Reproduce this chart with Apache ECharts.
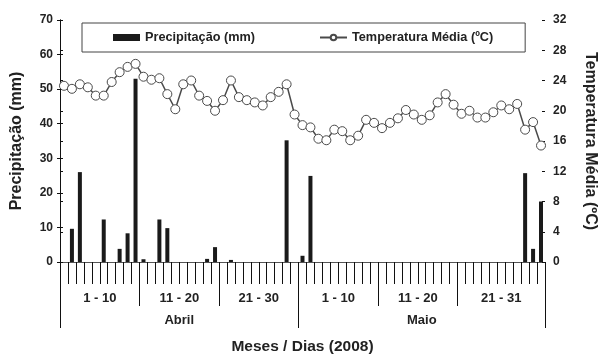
<!DOCTYPE html>
<html>
<head>
<meta charset="utf-8">
<script src="https://cdn.jsdelivr.net/npm/echarts@6/dist/echarts.min.js"></script>
<style>html,body{margin:0;padding:0;background:#fff}#c{width:598px;height:356px}</style>
</head>
<body>
<div id="c"></div>
<script>
// ---- data ----
const days = [
  '1/4','2/4','3/4','4/4','5/4','6/4','7/4','8/4','9/4','10/4',
  '11/4','12/4','13/4','14/4','15/4','16/4','17/4','18/4','19/4','20/4',
  '21/4','22/4','23/4','24/4','25/4','26/4','27/4','28/4','29/4','30/4',
  '1/5','2/5','3/5','4/5','5/5','6/5','7/5','8/5','9/5','10/5',
  '11/5','12/5','13/5','14/5','15/5','16/5','17/5','18/5','19/5','20/5',
  '21/5','22/5','23/5','24/5','25/5','26/5','27/5','28/5','29/5','30/5','31/5'
];
const precipitation = [
  0, 9.6, 26.0, 0, 0, 12.3, 0, 3.8, 8.3, 53.0,
  0.8, 0, 12.3, 9.8, 0, 0, 0, 0, 0.9, 4.3,
  0, 0.6, 0, 0, 0, 0, 0, 0, 35.2, 0,
  1.8, 24.9, 0, 0, 0, 0, 0, 0, 0, 0,
  0, 0, 0, 0, 0, 0, 0, 0, 0, 0,
  0, 0, 0, 0, 0, 0, 0, 0, 25.7, 3.8, 17.5
];
const temperature = [
  23.3, 22.9, 23.5, 23.1, 22.0, 22.0, 23.8, 25.1, 25.8, 26.2,
  24.5, 24.1, 24.3, 22.2, 20.2, 23.5, 24.0, 22.0, 21.3, 20.0,
  21.4, 24.0, 21.8, 21.4, 21.1, 20.7, 21.8, 22.5, 23.5, 19.5,
  18.1, 17.8, 16.3, 16.1, 17.5, 17.3, 16.1, 16.7, 18.8, 18.4,
  17.7, 18.4, 19.0, 20.1, 19.5, 18.8, 19.4, 21.1, 22.2, 20.8,
  19.6, 20.0, 19.1, 19.1, 19.8, 20.7, 20.2, 20.9, 17.5, 18.5, 15.4
];
const groupLabels = ['1 - 10', '11 - 20', '21 - 30', '1 - 10', '11 - 20', '21 - 31'];
const groupSizes = [10, 10, 10, 10, 10, 11];
const monthLabels = ['Abril', 'Maio'];
const monthSizes = [30, 31];
const precipTicks = [0, 10, 20, 30, 40, 50, 60, 70];
const tempTicks = [0, 4, 8, 12, 16, 20, 24, 28, 32];

// ---- derived boundaries / centres ----
function bounds(sizes) { const b = [0]; sizes.forEach(s => b.push(b[b.length - 1] + s)); return b; }
function centres(sizes) { const b = bounds(sizes); return sizes.map((s, i) => b[i] + s / 2); }
const groupBounds = bounds(groupSizes), groupCentres = centres(groupSizes);
const monthBounds = bounds(monthSizes), monthCentres = centres(monthSizes);
const total = days.length;

const FONT = "'Liberation Sans', Arial, sans-serif";
const TXT = '#222';
const chart = echarts.init(document.getElementById('c'), null, { renderer: 'canvas' });
const labelStyle = { fontFamily: FONT, fontWeight: 'bold', fontSize: 12, color: TXT };
const nameStyle = { fontFamily: FONT, fontWeight: 'bold', fontSize: 16, color: TXT };

chart.setOption({
  animation: false,
  backgroundColor: '#fff',
  grid: { left: 60, right: 53, top: 20, bottom: 94, containLabel: false, outerBoundsMode: 'none' },
  legend: {
    left: 82, top: 23,
    padding: [8, 32, 8, 31],
    itemGap: 64,
    itemWidth: 27, itemHeight: 7,
    borderColor: '#444', borderWidth: 1,
    textStyle: { fontFamily: FONT, fontWeight: 'bold', fontSize: 12.7, color: TXT },
    data: [
      { name: 'Precipitação (mm)', icon: 'rect' },
      { name: 'Temperatura Média (ºC)' }
    ]
  },
  xAxis: [
    {
      type: 'category', data: days, boundaryGap: true, position: 'bottom',
      axisLine: { show: true, onZero: false, lineStyle: { color: '#111', width: 1 } },
      axisTick: { show: true, interval: 0, length: 22, lineStyle: { color: '#111', width: 1 } },
      axisLabel: { show: false }, splitLine: { show: false }
    },
    {
      type: 'value', min: 0, max: total, position: 'bottom',
      axisLine: { show: false },
      axisTick: { show: true, customValues: groupBounds, length: 44, lineStyle: { color: '#111', width: 1 } },
      axisLabel: {
        show: true, customValues: groupCentres, margin: 30, ...labelStyle, fontSize: 13,
        formatter: v => groupLabels[groupCentres.indexOf(v)]
      },
      splitLine: { show: false }
    },
    {
      type: 'value', min: 0, max: total, position: 'bottom',
      axisLine: { show: false },
      axisTick: { show: true, customValues: monthBounds, length: 66, lineStyle: { color: '#111', width: 1 } },
      axisLabel: {
        show: true, customValues: monthCentres, margin: 52, ...labelStyle, fontSize: 13,
        formatter: v => monthLabels[monthCentres.indexOf(v)]
      },
      splitLine: { show: false },
      name: 'Meses / Dias (2008)', nameLocation: 'middle', nameGap: 77,
      nameTextStyle: { ...nameStyle, fontSize: 15.5 }
    },
    {
      type: 'category', data: days, position: 'top',
      axisLine: { show: true, lineStyle: { color: '#555', width: 1 } },
      axisTick: { show: false }, axisLabel: { show: false }, splitLine: { show: false }
    }
  ],
  yAxis: [
    {
      type: 'value', min: 0, max: 70, interval: 10, position: 'left',
      axisLine: { show: true, lineStyle: { color: '#111', width: 1 } },
      axisTick: { show: true, length: 3, lineStyle: { color: '#111' } },
      axisLabel: { ...labelStyle, margin: 7, formatter: v => precipTicks.includes(v) ? String(v) : '' },
      splitLine: { show: false },
      name: 'Precipitação (mm)', nameLocation: 'middle', nameGap: 35,
      nameTextStyle: nameStyle
    },
    {
      type: 'value', min: 0, max: 32, interval: 4, position: 'right',
      axisLine: { show: true, lineStyle: { color: '#111', width: 1 } },
      axisTick: { show: true, length: 3, lineStyle: { color: '#111' } },
      axisLabel: { ...labelStyle, margin: 8, formatter: v => tempTicks.includes(v) ? String(v) : '' },
      splitLine: { show: false },
      name: 'Temperatura Média (ºC)', nameLocation: 'middle', nameGap: 37, nameRotate: -90,
      nameTextStyle: nameStyle
    },
    {
      type: 'value', min: 0, max: 70, interval: 10, position: 'left',
      axisLine: { show: false },
      axisTick: { show: true, inside: true, length: 3, lineStyle: { color: '#111' } },
      axisLabel: { show: false }, splitLine: { show: false }
    },
    {
      type: 'value', min: 0, max: 32, interval: 4, position: 'right',
      axisLine: { show: false },
      axisTick: { show: true, inside: true, length: 3, lineStyle: { color: '#111' } },
      axisLabel: { show: false }, splitLine: { show: false }
    }
  ],
  series: [
    {
      name: 'Precipitação (mm)', type: 'bar', xAxisIndex: 0, yAxisIndex: 0,
      data: precipitation, barWidth: 4,
      itemStyle: { color: '#1a1a1a' }
    },
    {
      name: 'Temperatura Média (ºC)', type: 'line', xAxisIndex: 0, yAxisIndex: 1,
      data: temperature, symbol: 'circle', symbolSize: 9, showAllSymbol: true,
      lineStyle: { color: '#4a4a4a', width: 1.5 },
      itemStyle: { color: '#fff', borderColor: '#4a4a4a', borderWidth: 1 },
      z: 3
    }
  ]
});
</script>
</body>
</html>
